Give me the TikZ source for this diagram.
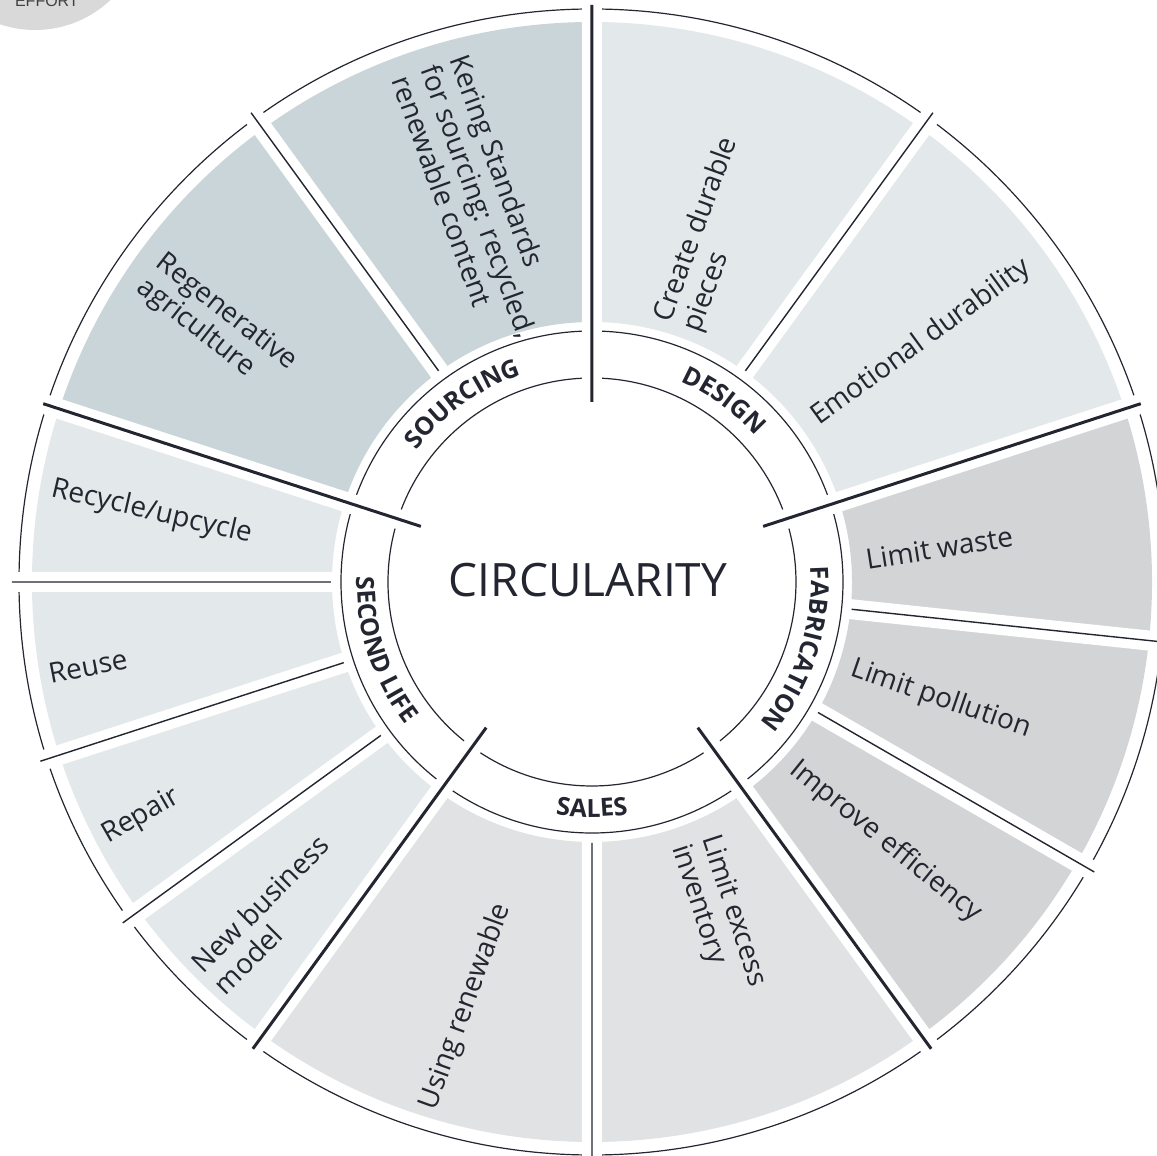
\documentclass[tikz,border=0pt]{standalone}
\usepackage{fontspec}
\setmainfont{Open Sans}
\newfontfamily\effortfont{Liberation Sans}
\usetikzlibrary{
  decorations.text
}
\definecolor{sourcing}{RGB}{201,213,216}
\definecolor{design}{RGB}{227,232,234}
\definecolor{fabrication}{RGB}{211,212,214}
\definecolor{sales}{RGB}{225,226,228}
\definecolor{secondlife}{RGB}{227,232,234}
\definecolor{ink}{RGB}{35,38,48}
\definecolor{badge}{RGB}{217,217,217}
\newcommand{\ringfont}{\color{ink}\fontsize{12.5}{14}\selectfont\bfseries}

\begin{document}
\begin{tikzpicture}[
  x=0.5pt, y=0.5pt,
  item/.style={font=\fontsize{14}{15.5}\selectfont, text=ink, align=left},
  rim/.style={line width=0.6pt, ink},
  gap/.style={white, line width=10pt},
  major/.style={line width=1.5pt, ink},
  minor/.style={line width=0.7pt, ink},
]
\useasboundingbox (-592,-574) rectangle (565,582);
\clip (-592,-574) rectangle (565,582);

% corner badge
\fill[badge] (-557,662) circle[radius=110];
\node[font=\effortfont\fontsize{8}{9}\selectfont, text=black!75, anchor=base west] (effort) at (-584,575) {EFFORT};

% sectors
\fill[sourcing] (90:260) arc[start angle=90, end angle=162, radius=260] -- (162:560) arc[start angle=162, end angle=90, radius=560] -- cycle;
\fill[design] (18:260) arc[start angle=18, end angle=90, radius=260] -- (90:560) arc[start angle=90, end angle=18, radius=560] -- cycle;
\fill[fabrication] (-54:260) arc[start angle=-54, end angle=18, radius=260] -- (18:560) arc[start angle=18, end angle=-54, radius=560] -- cycle;
\fill[sales] (-126:260) arc[start angle=-126, end angle=-54, radius=260] -- (-54:560) arc[start angle=-54, end angle=-126, radius=560] -- cycle;
\fill[secondlife] (162:260) arc[start angle=162, end angle=234, radius=260] -- (234:560) arc[start angle=234, end angle=162, radius=560] -- cycle;

% rings
\draw[rim] (0,0) circle[radius=204];
\draw[rim] (0,0) circle[radius=251];
\draw[rim] (0,0) circle[radius=573];

% dividers
\draw[gap] (90:186) -- (90:600) (18:186) -- (18:600) (-54:186) -- (-54:600) (-126:186) -- (-126:600) (162:186) -- (162:600);
\draw[gap] (126:258) -- (126:600) (54:258) -- (54:600) (-6:258) -- (-6:600) (-30:258) -- (-30:600)
  (-90:258) -- (-90:600) (180:258) -- (180:600) (198:258) -- (198:600) (216:258) -- (216:600);
\draw[major] (90:180) -- (90:577) (18:180) -- (18:577) (-54:180) -- (-54:577) (-126:180) -- (-126:577) (162:180) -- (162:577);
\draw[minor] (126:261) -- (126:580) (54:261) -- (54:580) (-6:261) -- (-6:580) (-30:261) -- (-30:580)
  (-90:261) -- (-90:580) (180:261) -- (180:580) (198:261) -- (198:580) (216:261) -- (216:580);

% ring labels
\path[decorate, decoration={text along path, text align=center, text={|\ringfont|SOURCING}}] (156:219) arc[start angle=156, end angle=96, radius=219];
\path[decorate, decoration={text along path, text align=center, text={|\ringfont|DESIGN}}] (84:219) arc[start angle=84, end angle=24, radius=219];
\path[decorate, decoration={text along path, text align=center, text={|\ringfont|FABRICATION}}] (12:219) arc[start angle=12, end angle=-48, radius=219];
\path[decorate, decoration={text along path, text align=center, text={|\ringfont|SALES}}] (-120:235) arc[start angle=-120, end angle=-60, radius=235];
\path[decorate, decoration={text along path, text align=center, text={|\ringfont|SECOND LIFE}}] (168:235) arc[start angle=168, end angle=228, radius=235];

\node[font=\fontsize{23}{26}\selectfont, text=ink] (hub) at (-4,2) {CIRCULARITY};

% items
\node[item, rotate=-70] (kering) at (106.5:397) {Kering Standards\\for sourcing: recycled,\\renewable content};
\node[item, rotate=-38] (regen) at (145.6:455) {Regenerative\\agriculture};
\node[item, rotate=70] (create) at (71:367) {Create durable\\pieces};
\node[item, rotate=36] (emotion) at (36:407) {Emotional durability};
\node[item, rotate=9] (waste) at (5.6:349) {Limit waste};
\node[item, rotate=-19] (pollution) at (-18.6:368) {Limit pollution};
\node[item, rotate=-39] (efficiency) at (-41.5:392) {Improve efficiency};
\node[item, rotate=-72] (inventory) at (-69.3:357) {Limit excess\\inventory};
\node[item, rotate=70] (renewable) at (253.5:443) {Using renewable};
\node[item, rotate=45] (business) at (226:462) {New business\\model};
\node[item, rotate=30] (repair) at (207.5:508) {Repair};
\node[item, rotate=11] (reuse) at (189.5:511) {Reuse};
\node[item, rotate=-13] (recycle) at (171:446) {Recycle/upcycle};

\end{tikzpicture}
\end{document}
